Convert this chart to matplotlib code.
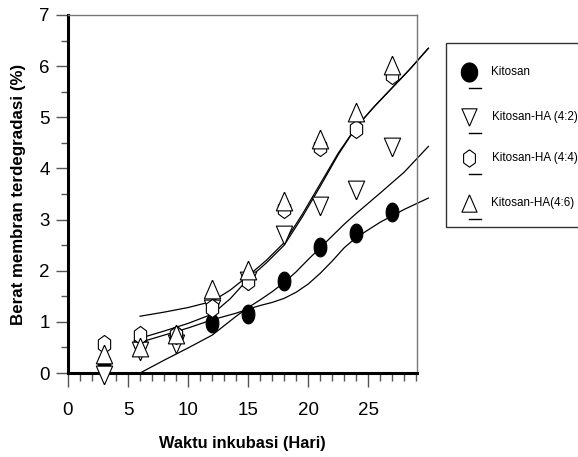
import numpy as np
import matplotlib
matplotlib.use('Agg')
import matplotlib.pyplot as plt
from matplotlib.patches import Rectangle

plt.rcParams['font.family'] = ['Liberation Sans', 'DejaVu Sans']

# measured points (hari, % terdegradasi)
days = [3, 6, 9, 12, 15, 18, 21, 24, 27]
kitosan = [0.20, 0.60, 0.72, 0.98, 1.15, 1.80, 2.47, 2.73, 3.14]
ha42 = [-0.04, 0.43, 0.56, 1.25, 1.80, 2.70, 3.27, 3.58, 4.42]
ha44 = [0.57, 0.75, 0.75, 1.27, 1.80, 3.20, 4.42, 4.77, 5.82]
ha46 = [0.37, 0.50, 0.76, 1.65, 2.01, 3.37, 4.57, 5.10, 6.02]

labels = ['Kitosan', 'Kitosan-HA (4:2)', 'Kitosan-HA (4:4)', 'Kitosan-HA(4:6)']

# fitted curves
fit_x = [6, 8, 10, 12, 14, 15, 16, 17, 18, 19, 20, 21, 22, 23, 24, 26, 28, 30]
fit_kitosan = [0.60, 0.74, 0.88, 1.04, 1.17, 1.25, 1.32, 1.38, 1.46, 1.58, 1.74, 1.95, 2.19, 2.45, 2.65, 2.95, 3.20, 3.42]
fit_ha42 = [0.00, 0.25, 0.49, 0.74, 1.11, 1.28, 1.43, 1.59, 1.77, 1.98, 2.22, 2.45, 2.68, 2.91, 3.12, 3.52, 3.93, 4.43]

fit_x2 = [6, 8, 10, 12, 13.5, 15, 16.5, 18, 19.5, 21, 22.5, 24, 25.5, 27, 28.5, 30]
fit_ha46 = [1.11, 1.19, 1.28, 1.40, 1.62, 1.90, 2.20, 2.55, 3.10, 3.70, 4.30, 4.81, 5.21, 5.58, 5.95, 6.35]
fit_ha44 = [0.68, 0.82, 0.97, 1.15, 1.45, 1.84, 2.15, 2.50, 3.05, 3.65, 4.27, 4.81, 5.21, 5.58, 5.95, 6.35]

# stretched marker shapes (the original picture is squeezed horizontally)
t = np.linspace(0, 2 * np.pi, 60)
m_circle = list(zip(0.68 * np.cos(t), np.sin(t)))
m_circle_leg = list(zip(0.86 * np.cos(t), np.sin(t)))
m_tri_down = [(0, -1), (-0.87, 1), (0.87, 1), (0, -1)]
m_tri_up = [(0, 1), (-0.87, -1), (0.87, -1), (0, 1)]
m_hex = [(0, 1), (-0.68, 0.5), (-0.68, -0.5), (0, -1), (0.68, -0.5), (0.68, 0.5), (0, 1)]

fig = plt.figure(figsize=(5.78, 4.57), dpi=100)
ax = fig.add_axes([0.1176, 0.1838, 0.6044, 0.7834])

lw = 0.9
ax.plot(fit_x, fit_ha42, color='black', lw=lw, clip_on=False, zorder=1)
ax.plot(fit_x, fit_kitosan, color='black', lw=lw, clip_on=False, zorder=1)
ax.plot(fit_x2, fit_ha46, color='black', lw=lw, clip_on=False, zorder=1)
ax.plot(fit_x2, fit_ha44, color='black', lw=lw, clip_on=False, zorder=1)

styles = [(kitosan, m_circle, 'black', 13.5),
          (ha42, m_tri_down, 'white', 13.5),
          (ha44, m_hex, 'white', 13),
          (ha46, m_tri_up, 'white', 13.5)]
for i, (vals, mk, fc, ms) in enumerate(styles):
    ax.plot(days, vals, linestyle='none', marker=mk, markersize=ms,
            markerfacecolor=fc, markeredgecolor='black', markeredgewidth=0.8,
            clip_on=False, zorder=3 + i)

ax.set_xlim(0, 29.08)
ax.set_ylim(0, 7)
ax.set_xticks([0, 5, 10, 15, 20, 25])
ax.set_xticks(np.arange(0, 30, 1), minor=True)
ax.set_yticks(np.arange(0, 8, 1))
ax.set_yticks(np.arange(0.5, 7, 1), minor=True)

for s in ['left', 'bottom']:
    ax.spines[s].set_linewidth(2.2)
    ax.spines[s].set_color('black')
for s in ['top', 'right']:
    ax.spines[s].set_linewidth(1.0)
    ax.spines[s].set_color('#777777')

ax.tick_params(axis='x', which='major', length=10, width=1.0, color='#555555',
               labelsize=13.5, pad=11)
ax.tick_params(axis='x', which='minor', length=6, width=1.0, color='#555555')
ax.tick_params(axis='y', which='major', length=9, width=1.0, color='#555555',
               labelsize=13.5, pad=4)
ax.tick_params(axis='y', which='minor', length=5, width=1.0, color='#555555')

ax.set_xlabel('Waktu inkubasi (Hari)', fontsize=11.8, fontweight='bold', labelpad=12)
ax.set_ylabel('Berat membran terdegradasi (%)', fontsize=12.2, fontweight='bold', labelpad=10)

# legend drawn in pixel coordinates
lax = fig.add_axes([0, 0, 1, 1], zorder=10)
lax.set_xlim(0, 578)
lax.set_ylim(457, 0)
lax.axis('off')
lax.patch.set_alpha(0)
lax.add_patch(Rectangle((446, 43.3), 200, 184, facecolor='white',
                        edgecolor='#333333', lw=1.0, clip_on=False))
row_y = [71.7, 116.7, 158.3, 203.3]
leg_markers = [(m_circle_leg, 'black', 13.7), (m_tri_down, 'white', 12.5),
               (m_hex, 'white', 12.5), (m_tri_up, 'white', 12.5)]
for lab, yy, (mk, fc, ms) in zip(labels, row_y, leg_markers):
    lax.plot([469], [yy], linestyle='none', marker=mk, markersize=ms,
             markerfacecolor=fc, markeredgecolor='black', markeredgewidth=0.8)
    lax.plot([469, 481], [yy + 16, yy + 16], color='black', lw=1.0)
    lax.text(491.5, yy, lab, fontsize=8.4, va='center', ha='left')

fig.savefig('out.png', dpi=100)
